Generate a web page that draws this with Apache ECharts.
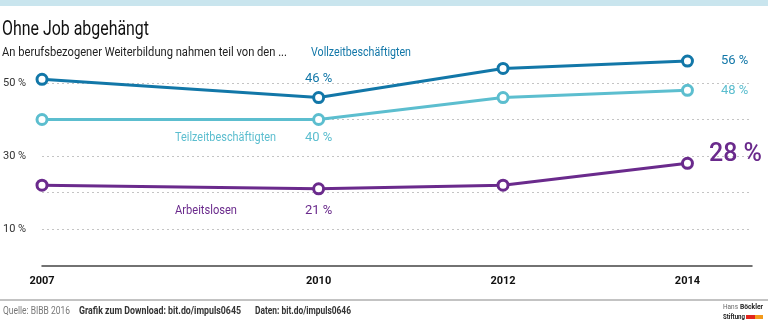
<!DOCTYPE html>
<html>
<head>
<meta charset="utf-8">
<script src="https://cdn.jsdelivr.net/npm/echarts@6/dist/echarts.min.js"></script>
<style>
html,body{margin:0;padding:0;background:#fff;}
#c{width:768px;height:326px;}
</style>
</head>
<body>
<div id="c"></div>
<script>
const years = [2007, 2010, 2012, 2014];
const yearLabels = [2007, 2010, 2012, 2014];
const vollzeit = [51, 46, 54, 56];
const teilzeit = [40, 40, 46, 48];
const arbeitslose = [22, 21, 22, 28];
const yTickLabels = [10, 30, 50];
const seriesNames = ['Vollzeitbeschäftigten', 'Teilzeitbeschäftigten', 'Arbeitslosen'];

const FONT = 'Roboto, "Liberation Sans", sans-serif';
const C_VOLL = '#1277a8';
const C_TEIL = '#5cbecf';
const C_ARB = '#6a2a8c';

const mctx = document.createElement('canvas').getContext('2d');
function fitText(x, y, text, font, width, fill) {
  mctx.font = font;
  const w = mctx.measureText(text).width;
  return { type: 'text', x: x, y: y, scaleX: width / w, silent: true,
    style: { text: text, font: font, fill: fill, align: 'left', verticalAlign: 'middle' } };
}

function pts(vals) { return years.map((y, i) => [y, vals[i]]); }

function mkData(vals, color, specs) {
  return pts(vals).map((p, i) => {
    const s = specs[i];
    if (!s) return { value: p };
    return {
      value: p,
      label: Object.assign({
        show: true, color: color, fontFamily: FONT, fontSize: 13,
        formatter: v => v.value[1] + ' %'
      }, s)
    };
  });
}

function mkSeries(name, vals, color, specs) {
  return {
    name: name, type: 'line', data: mkData(vals, color, specs),
    symbol: 'circle', symbolSize: 10, showAllSymbol: true,
    lineStyle: { color: color, width: 3 },
    itemStyle: { color: '#fff', borderColor: color, borderWidth: 3 },
    emphasis: { disabled: true }, animation: false, z: 3
  };
}

const chart = echarts.init(document.getElementById('c'), null, { renderer: 'canvas' });
chart.setOption({
  animation: false,
  grid: { left: 42, right: 16, top: 46.5, bottom: 60.5 },
  xAxis: {
    type: 'value', min: 2007, max: 2014.7, interval: 1,
    axisLine: { show: true, lineStyle: { color: '#444', width: 1.5 } },
    axisTick: { show: false },
    splitLine: { show: false },
    axisLabel: {
      margin: 10, color: '#111', fontFamily: FONT, fontSize: 11, fontWeight: 'bold',
      formatter: v => yearLabels.indexOf(v) >= 0 ? String(v) : ''
    }
  },
  yAxis: {
    type: 'value', min: 0, max: 60, interval: 10,
    axisLine: { show: false }, axisTick: { show: false },
    splitLine: { show: true, lineStyle: { type: [2, 3], width: 1,
      color: ['transparent', '#c4c4c4', '#c4c4c4', '#c4c4c4', '#c4c4c4', '#c4c4c4', 'transparent'] } },
    axisLabel: {
      align: 'left', margin: 39, color: '#333', fontFamily: FONT, fontSize: 11,
      formatter: v => yTickLabels.indexOf(v) >= 0 ? v + ' %' : ''
    }
  },
  series: [
    mkSeries(seriesNames[0], vollzeit, C_VOLL, [null, { position: 'top', distance: 6 }, null, { position: 'right', distance: 27 }]),
    mkSeries(seriesNames[1], teilzeit, C_TEIL, [null, { position: 'bottom', distance: 5 }, null, { position: 'right', distance: 27 }]),
    mkSeries(seriesNames[2], arbeitslose, C_ARB, [null, { position: 'bottom', distance: 9 }, null, { position: 'right', distance: 15, fontSize: 25, fontWeight: 500, offset: [0, -9] }])
  ],
  graphic: [
    { type: 'rect', left: 0, top: 0, shape: { width: 768, height: 6 }, style: { fill: '#c9e5ee' }, silent: true },
    fitText(2, 30, 'Ohne Job abgehängt', '20px ' + FONT, 147, '#111'),
    fitText(2, 53, 'An berufsbezogener Weiterbildung nahmen teil von den ...', '12px ' + FONT, 285, '#222'),
    fitText(311, 53, seriesNames[0], '12px ' + FONT, 100, C_VOLL),
    fitText(175, 138, seriesNames[1], '12px ' + FONT, 101, C_TEIL),
    fitText(175, 211, seriesNames[2], '12px ' + FONT, 62, C_ARB),
    { type: 'rect', left: 0, top: 299.5, shape: { width: 768, height: 1 }, style: { fill: '#888' }, silent: true },
    fitText(3, 311, 'Quelle: BIBB 2016', '10.5px ' + FONT, 67, '#777'),
    fitText(79, 311, 'Grafik zum Download: bit.do/impuls0645', 'bold 10.5px ' + FONT, 162, '#333'),
    fitText(255, 311, 'Daten: bit.do/impuls0646', 'bold 10.5px ' + FONT, 96, '#333'),
    fitText(723, 307, 'Hans', '8px ' + FONT, 15, '#666'),
    fitText(740, 307, 'Böckler', 'bold 8px ' + FONT, 23, '#222'),
    fitText(723, 317, 'Stiftung', 'bold 8px ' + FONT, 22, '#222'),
    { type: 'rect', x: 746, y: 315, shape: { width: 9, height: 4 }, style: { fill: '#e2251d' }, silent: true },
    { type: 'rect', x: 755, y: 315, shape: { width: 8, height: 4 }, style: { fill: '#f39a1b' }, silent: true }
  ]
});
</script>
</body>
</html>
